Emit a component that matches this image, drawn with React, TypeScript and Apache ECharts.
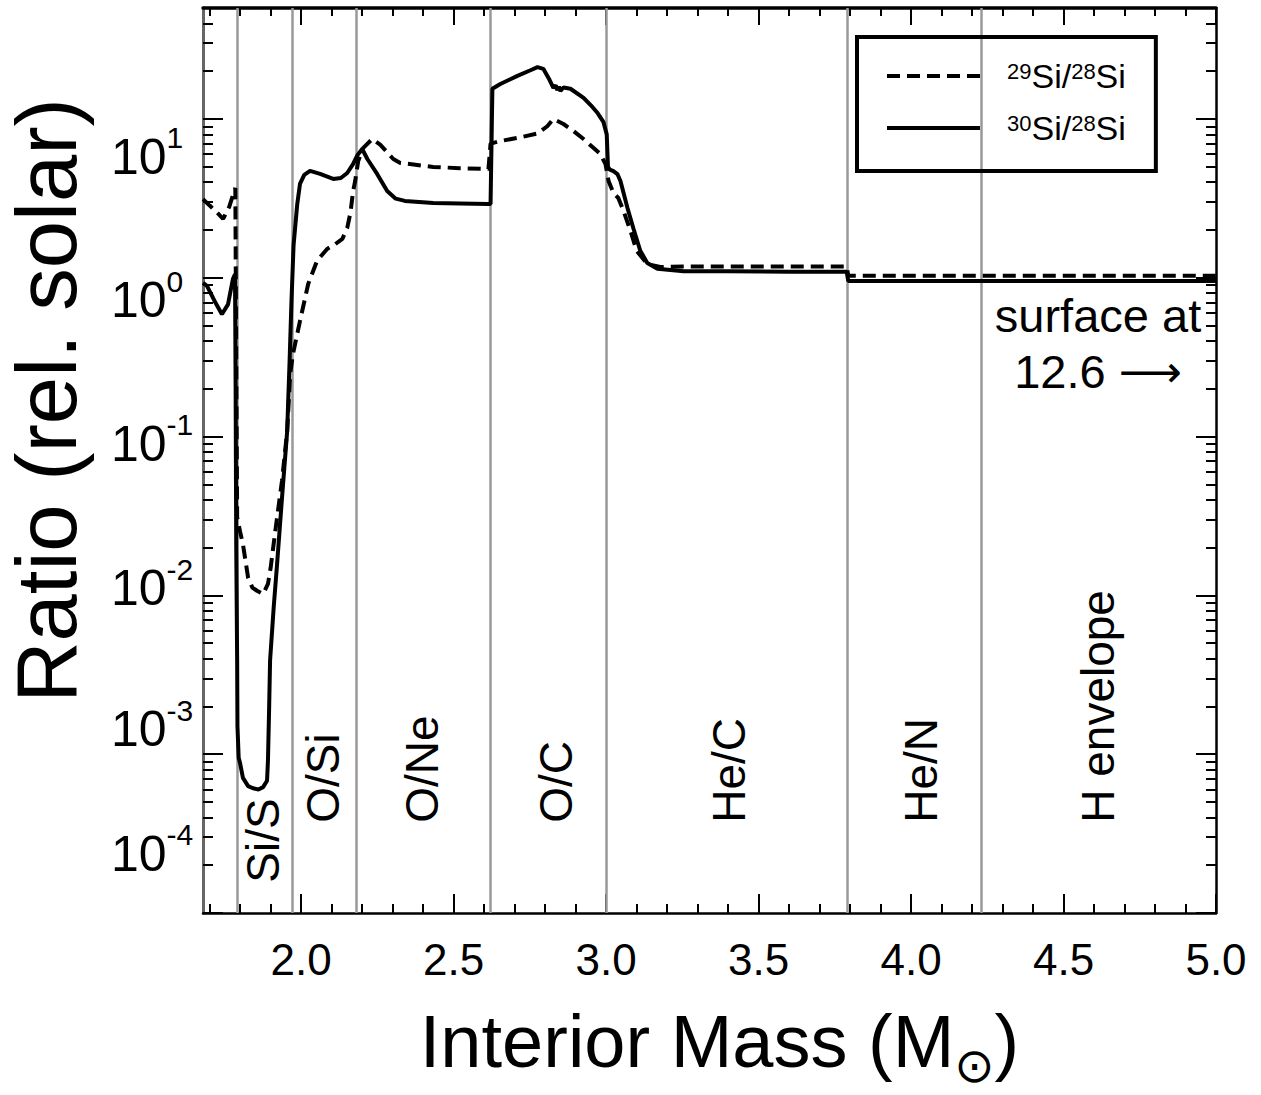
import React, { useEffect, useRef } from "react";
import * as echarts from "echarts";

const FONT = "'Liberation Sans', Arial, Helvetica, sans-serif";

const X_MIN = 1.678;
const X_MAX = 5.0;
const Y_MIN = 1e-4;
const Y_MAX = 50;

const xMajorTicks = [2.0, 2.5, 3.0, 3.5, 4.0, 4.5, 5.0];
const xMinorTicks = [1.7, 1.8, 1.9, 2.1, 2.2, 2.3, 2.4, 2.6, 2.7, 2.8, 2.9, 3.1, 3.2, 3.3, 3.4, 3.6, 3.7, 3.8, 3.9, 4.1, 4.2, 4.3, 4.4, 4.6, 4.7, 4.8, 4.9];
const yMajorTicks = [1e-4, 1e-3, 1e-2, 1e-1, 1, 10];
const yMinorTicks = [
  2e-4, 3e-4, 4e-4, 5e-4, 6e-4, 7e-4, 8e-4, 9e-4,
  2e-3, 3e-3, 4e-3, 5e-3, 6e-3, 7e-3, 8e-3, 9e-3,
  2e-2, 3e-2, 4e-2, 5e-2, 6e-2, 7e-2, 8e-2, 9e-2,
  0.2, 0.3, 0.4, 0.5, 0.6, 0.7, 0.8, 0.9,
  2, 3, 4, 5, 6, 7, 8, 9,
  20, 30, 40,
];
const yLabelExponents = ["1", "0", "-1", "-2", "-3", "-4"];
const yLabelAt = [5.8, 0.72, 0.09, 0.0111, 0.00144, 0.000236];

const zoneBoundaries = [1.791, 1.966, 2.177, 2.62, 3.005, 3.791, 4.234];
const zoneNames = ["Si/S", "O/Si", "O/Ne", "O/C", "He/C", "He/N", "H envelope"];
const zoneLabelX = [1.875, 2.072, 2.397, 2.834, 3.402, 4.032, 4.613];
const zoneLabelY = [1.55e-4, 3.7e-4, 3.7e-4, 3.7e-4, 3.7e-4, 3.7e-4, 3.7e-4];

const surfaceNoteLines = ["surface at", "12.6 "];
const surfaceArrow = "\u27F6";
const surfaceNoteAt = [4.613, 0.383];

const massSi30 = [1.678, 1.691, 1.715, 1.74, 1.76, 1.776, 1.783, 1.785, 1.787, 1.79, 1.791, 1.795, 1.8, 1.809, 1.826, 1.842, 1.86, 1.875, 1.888, 1.891, 1.895, 1.898, 1.91, 1.921, 1.937, 1.954, 1.962, 1.968, 1.975, 1.987, 1.996, 2.01, 2.029, 2.062, 2.105, 2.13, 2.151, 2.17, 2.184, 2.2, 2.217, 2.249, 2.282, 2.31, 2.34, 2.433, 2.52, 2.614, 2.621, 2.627, 2.653, 2.709, 2.75, 2.775, 2.794, 2.812, 2.827, 2.835, 2.84, 2.845, 2.85, 2.86, 2.883, 2.926, 2.95, 2.972, 2.991, 3.002, 3.006, 3.012, 3.024, 3.037, 3.047, 3.07, 3.09, 3.112, 3.135, 3.168, 3.254, 3.4, 3.6, 3.789, 3.794, 4.2, 4.6, 5.0];
const ratioSi30 = [0.93, 0.89, 0.72, 0.59, 0.68, 0.98, 1.05, 0.2, 0.02, 0.0039, 0.0015, 0.00095, 0.00087, 0.00071, 0.00063, 0.00061, 0.0006, 0.00062, 0.00068, 0.00091, 0.002, 0.0039, 0.0085, 0.0158, 0.041, 0.108, 0.3, 0.7, 1.6, 2.9, 3.9, 4.45, 4.71, 4.51, 4.19, 4.25, 4.57, 5.2, 5.9, 6.47, 5.6, 4.51, 3.52, 3.15, 3.05, 2.96, 2.94, 2.92, 2.92, 15.5, 16.6, 18.7, 20.2, 21.2, 20.7, 18.0, 15.7, 16.3, 15.2, 16.0, 15.0, 15.8, 15.5, 13.6, 12.2, 10.9, 9.6, 8.0, 5.0, 4.8, 4.7, 4.5, 4.07, 2.75, 2.03, 1.48, 1.24, 1.14, 1.1, 1.1, 1.09, 1.09, 0.955, 0.955, 0.955, 0.955];

const massSi29 = [1.678, 1.7, 1.722, 1.744, 1.764, 1.78, 1.784, 1.787, 1.79, 1.8, 1.809, 1.826, 1.84, 1.855, 1.875, 1.891, 1.9, 1.908, 1.92, 1.937, 1.954, 1.964, 1.973, 1.996, 2.023, 2.052, 2.085, 2.11, 2.135, 2.151, 2.162, 2.17, 2.177, 2.187, 2.203, 2.233, 2.259, 2.302, 2.325, 2.433, 2.52, 2.614, 2.621, 2.653, 2.709, 2.775, 2.807, 2.827, 2.86, 2.893, 2.926, 2.959, 2.981, 2.998, 3.008, 3.024, 3.04, 3.057, 3.08, 3.1, 3.135, 3.178, 3.254, 3.5, 3.789, 3.794, 4.2, 4.6, 5.0];
const ratioSi29 = [3.13, 2.85, 2.6, 2.35, 2.8, 3.5, 3.68, 0.3, 0.031, 0.025, 0.021, 0.0129, 0.0112, 0.0107, 0.0102, 0.0118, 0.015, 0.0199, 0.03, 0.0525, 0.108, 0.248, 0.331, 0.534, 0.914, 1.28, 1.52, 1.62, 1.76, 2.06, 2.6, 3.5, 4.07, 5.44, 6.56, 7.48, 6.9, 5.6, 5.29, 4.99, 4.9, 4.84, 7.0, 7.27, 7.6, 8.1, 9.0, 10.0, 9.3, 8.4, 7.48, 6.56, 6.02, 5.2, 4.07, 3.42, 3.18, 2.64, 1.97, 1.48, 1.22, 1.17, 1.18, 1.18, 1.18, 1.03, 1.03, 1.03, 1.03];

const SERIES_29 = "29Si/28Si";
const SERIES_30 = "30Si/28Si";

function pairs(xs: number[], ys: number[]) {
  return xs.map((x, i) => [x, ys[i]]);
}

function xAxisDef(position: string, ticks: number[], len: number, line: any, withLabels: boolean) {
  return {
    type: "value",
    min: X_MIN,
    max: X_MAX,
    position,
    axisLine: line ? { show: true, onZero: false, lineStyle: line } : { show: false, onZero: false },
    axisTick: { show: true, inside: true, length: len, customValues: ticks, lineStyle: { color: "#000", width: 2 } },
    axisLabel: withLabels
      ? {
          show: true,
          customValues: xMajorTicks,
          formatter: (v: number) => v.toFixed(1),
          fontSize: 44,
          color: "#000",
          fontFamily: FONT,
          margin: 24,
        }
      : { show: false },
    splitLine: { show: false },
  } as any;
}

function yAxisDef(position: string, ticks: number[], len: number, line: any, withLabels: boolean) {
  return {
    type: "log",
    logBase: 10,
    min: Y_MIN,
    max: Y_MAX,
    position,
    axisLine: line ? { show: true, onZero: false, lineStyle: line } : { show: false, onZero: false },
    axisTick: { show: true, inside: true, length: len, customValues: ticks, lineStyle: { color: "#000", width: 2 } },
    axisLabel: withLabels
      ? {
          show: true,
          customValues: yLabelAt,
          align: "left",
          margin: 92,
          formatter: (v: number) => {
            let best = 0;
            let bd = Infinity;
            yLabelAt.forEach((a, i) => {
              const d = Math.abs(Math.log10(a) - Math.log10(v));
              if (d < bd) {
                bd = d;
                best = i;
              }
            });
            return "{b|10}{s|" + yLabelExponents[best] + "}";
          },
          rich: {
            b: { fontSize: 50, lineHeight: 68, color: "#000", fontFamily: FONT },
            s: { fontSize: 30, verticalAlign: "top", lineHeight: 68, color: "#000", fontFamily: FONT },
          },
        }
      : { show: false },
    splitLine: { show: false },
  } as any;
}

export default function App() {
  const ref = useRef<HTMLDivElement>(null);

  useEffect(() => {
    if (!ref.current) return;
    const chart = echarts.init(ref.current, undefined, { renderer: "svg" });

    const xAxes = [
      {
        ...xAxisDef("bottom", xMajorTicks, 19, { color: "#000", width: 2.5 }, true),
        name: "{m|Interior Mass (M}{sub|\u2299}{m|)}",
        nameLocation: "middle",
        nameGap: 88,
        nameTextStyle: {
          fontSize: 74,
          color: "#000",
          fontFamily: FONT,
          padding: [0, 0, 0, 20],
          rich: {
            m: { fontSize: 74, lineHeight: 80, color: "#000", fontFamily: FONT },
            sub: {
              fontSize: 48,
              lineHeight: 48,
              fontFamily: "'DejaVu Sans', sans-serif",
              verticalAlign: "top",
              padding: [40, 0, 0, 0],
              color: "#000",
            },
          },
        },
      },
      xAxisDef("bottom", xMinorTicks, 9, null, false),
      xAxisDef("top", xMajorTicks, 17, { color: "#000", width: 3.5 }, false),
      xAxisDef("top", xMinorTicks, 8, null, false),
    ];

    const yAxes = [
      {
        ...yAxisDef("left", yMajorTicks, 20, { color: "#666", width: 3 }, true),
        name: "Ratio (rel. solar)",
        nameLocation: "middle",
        nameRotate: 90,
        nameGap: 114,
        nameTextStyle: { fontSize: 85, color: "#000", fontFamily: FONT, padding: [0, 0, 0, 120] },
      },
      yAxisDef("left", yMinorTicks, 10, null, false),
      yAxisDef("right", yMajorTicks, 20, { color: "#000", width: 2.5 }, false),
      yAxisDef("right", yMinorTicks, 10, null, false),
    ];

    const option: any = {
      animation: false,
      backgroundColor: "#fff",
      textStyle: { fontFamily: FONT, color: "#000" },
      grid: { left: 203, right: 45, top: 8, bottom: 182, containLabel: false, outerBoundsMode: "none" },
      xAxis: xAxes,
      yAxis: yAxes,
      legend: {
        data: [SERIES_29, SERIES_30],
        orient: "vertical",
        left: 857,
        top: 37,
        borderColor: "#000",
        borderWidth: 4,
        padding: [22, 30, 26, 28],
        itemWidth: 93,
        itemHeight: 14,
        itemGap: 18,
        selectedMode: false,
        itemStyle: { color: "rgba(0,0,0,0)", borderWidth: 0, opacity: 0 },
        lineStyle: { width: 4 },
        formatter: (n: string) => (n === SERIES_29 ? "{sup|29}Si/{sup|28}Si" : "{sup|30}Si/{sup|28}Si"),
        textStyle: {
          fontSize: 34,
          lineHeight: 32,
          color: "#000",
          fontFamily: FONT,
          padding: [0, 0, 0, 22],
          rich: {
            sup: { fontSize: 22, verticalAlign: "top", lineHeight: 32, color: "#000", fontFamily: FONT },
          },
        },
      },
      series: [
        {
          type: "line",
          name: SERIES_30,
          data: pairs(massSi30, ratioSi30),
          symbol: "none",
          showSymbol: false,
          z: 3,
          lineStyle: { color: "#000", width: 4, type: "solid" },
          itemStyle: { color: "#000" },
          markLine: {
            silent: true,
            z: 1,
            symbol: ["none", "none"],
            label: { show: false },
            lineStyle: { color: "#999", width: 2.5, type: "solid", opacity: 1 },
            emphasis: { disabled: true },
            data: zoneBoundaries.map((v) => ({ xAxis: v })),
          },
        },
        {
          type: "line",
          name: SERIES_29,
          data: pairs(massSi29, ratioSi29),
          symbol: "none",
          showSymbol: false,
          z: 4,
          lineStyle: { color: "#000", width: 4, type: [13, 7] },
          itemStyle: { color: "#000" },
        },
        {
          type: "scatter",
          name: "zones",
          silent: true,
          symbol: "circle",
          symbolSize: 1,
          itemStyle: { color: "rgba(255,255,255,0)" },
          z: 5,
          data: zoneNames.map((n, i) => ({ name: n, value: [zoneLabelX[i], zoneLabelY[i]] })),
          label: {
            show: true,
            formatter: "{b}",
            position: "inside",
            rotate: 90,
            align: "left",
            verticalAlign: "middle",
            fontSize: 46,
            color: "#000",
            opacity: 1,
            fontFamily: FONT,
          },
        },
        {
          type: "scatter",
          name: "note",
          silent: true,
          symbol: "circle",
          symbolSize: 1,
          itemStyle: { color: "rgba(255,255,255,0)" },
          z: 5,
          data: [{ name: "surface", value: surfaceNoteAt }],
          label: {
            show: true,
            formatter: () => surfaceNoteLines[0] + "\n" + surfaceNoteLines[1] + "{arr|" + surfaceArrow + "}",
            position: "inside",
            align: "center",
            verticalAlign: "middle",
            fontSize: 47,
            lineHeight: 56,
            color: "#000",
            opacity: 1,
            fontFamily: FONT,
            rich: {
              arr: { fontSize: 44, lineHeight: 56, fontFamily: "'DejaVu Sans', sans-serif", color: "#000" },
            },
          },
        },
      ],
    };

    chart.setOption(option);
    return () => chart.dispose();
  }, []);

  return (
    <div
      ref={ref}
      style={{ position: "fixed", left: 0, top: 0, width: 1261, height: 1095, background: "#fff" }}
    />
  );
}
